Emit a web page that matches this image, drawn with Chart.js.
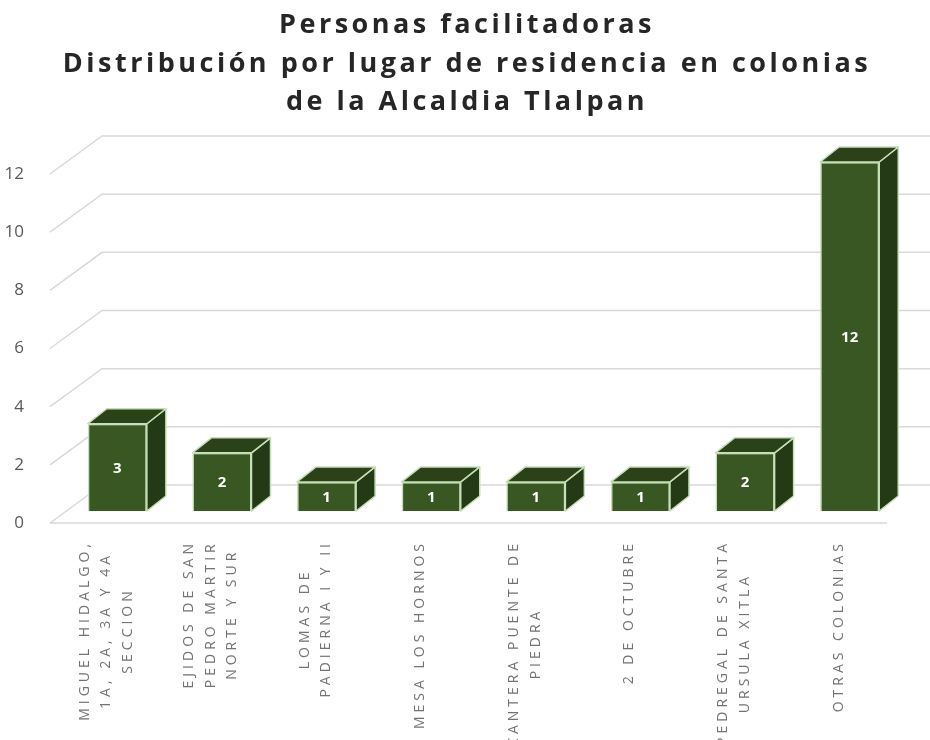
<!DOCTYPE html>
<html>
<head>
<meta charset="utf-8">
<script src="https://cdn.jsdelivr.net/npm/chart.js@4.4.0/dist/chart.umd.min.js"></script>
<style>
  html, body { margin: 0; padding: 0; background: #fff; }
</style>
</head>
<body>
<canvas id="chart" width="930" height="740"></canvas>
<script>
// ===== Data =====
var titleLines = [
  'Personas facilitadoras',
  'Distribución por lugar de residencia en colonias',
  'de la Alcaldia Tlalpan'
];
var categories = [
  ['MIGUEL HIDALGO,', '1A, 2A, 3A Y 4A', 'SECCION'],
  ['EJIDOS DE SAN', 'PEDRO MARTIR', 'NORTE Y SUR'],
  ['LOMAS DE', 'PADIERNA I Y II'],
  ['MESA LOS HORNOS'],
  ['CANTERA PUENTE DE', 'PIEDRA'],
  ['2 DE OCTUBRE'],
  ['PEDREGAL DE SANTA', 'URSULA XITLA'],
  ['OTRAS COLONIAS']
];
var values = [3, 2, 1, 1, 1, 1, 2, 12];
var yMin = 0, yMax = 12, yStep = 2;

// ===== 3D look =====
var wallDX = 52, wallDY = -38;       // back wall offset from front plane
var barShiftX = 15, barShiftY = -12; // bars sit a bit inside the floor
var barDX = 19, barDY = -15;         // depth of each bar
var gridColor = '#d9d9d9';
var frontColor = '#385723', topColor = '#2b4219', sideColor = '#243a17', edgeColor = '#c5e0b4';

function drawGrid(chart) {
  var ctx = chart.ctx, y = chart.scales.y, a = chart.chartArea;
  ctx.save();
  ctx.strokeStyle = gridColor;
  ctx.lineWidth = 1.5;
  y.ticks.forEach(function(t) {
    var py = y.getPixelForValue(t.value);
    ctx.beginPath();
    ctx.moveTo(a.left, py);
    ctx.lineTo(a.left + wallDX, py + wallDY);
    ctx.lineTo(a.right + wallDX, py + wallDY);
    ctx.stroke();
    if (t.value === yMin) {
      ctx.beginPath();
      ctx.moveTo(a.left, py);
      ctx.lineTo(a.right, py);
      ctx.stroke();
    }
  });
  ctx.restore();
}

function drawFaces(chart) {
  var ctx = chart.ctx;
  var meta = chart.getDatasetMeta(0);
  meta.data.forEach(function(bar, i) {
    var l = bar.x - bar.width / 2, r = bar.x + bar.width / 2;
    var top = bar.y, bottom = bar.base;
    ctx.lineWidth = 1.5;
    ctx.strokeStyle = edgeColor;
    ctx.lineJoin = 'round';
    // side
    ctx.beginPath();
    ctx.moveTo(r, top);
    ctx.lineTo(r + barDX, top + barDY);
    ctx.lineTo(r + barDX, bottom + barDY);
    ctx.lineTo(r, bottom);
    ctx.closePath();
    ctx.fillStyle = sideColor;
    ctx.fill();
    ctx.stroke();
    // top
    ctx.beginPath();
    ctx.moveTo(l, top);
    ctx.lineTo(l + barDX, top + barDY);
    ctx.lineTo(r + barDX, top + barDY);
    ctx.lineTo(r, top);
    ctx.closePath();
    ctx.fillStyle = topColor;
    ctx.fill();
    ctx.stroke();
    // value
    ctx.fillStyle = '#ffffff';
    ctx.font = 'bold 15px "Open Sans"';
    ctx.textAlign = 'center';
    ctx.textBaseline = 'middle';
    ctx.fillText(String(values[i]), bar.x, (top + bottom) / 2 + 1);
  });
}

function drawCategoryLabels(chart) {
  var ctx = chart.ctx, x = chart.scales.x;
  var labelTop = 540, lineGap = 21.5;
  ctx.save();
  ctx.font = '14px "Open Sans"';
  ctx.letterSpacing = '4px';
  ctx.fillStyle = '#737373';
  ctx.textAlign = 'center';
  ctx.textBaseline = 'middle';
  categories.forEach(function(lines, i) {
    var cx = x.getPixelForValue(i) + 4;
    var maxW = 0;
    lines.forEach(function(s) { maxW = Math.max(maxW, ctx.measureText(s).width); });
    lines.forEach(function(s, j) {
      ctx.save();
      ctx.translate(cx + (j - (lines.length - 1) / 2) * lineGap, labelTop + maxW / 2);
      ctx.rotate(-Math.PI / 2);
      ctx.fillText(s, 0, 0);
      ctx.restore();
    });
  });
  ctx.restore();
}

function drawTitle(chart) {
  var ctx = chart.ctx;
  ctx.save();
  ctx.font = 'bold 27px "Open Sans"';
  ctx.letterSpacing = '3.5px';
  ctx.fillStyle = '#262626';
  ctx.textAlign = 'center';
  ctx.textBaseline = 'alphabetic';
  var baselines = [33, 72, 110];
  titleLines.forEach(function(s, i) {
    ctx.fillText(s, chart.width / 2 + 2, baselines[i]);
  });
  ctx.restore();
}

var bar3d = {
  id: 'bar3d',
  beforeDatasetsDraw: function(chart) {
    drawGrid(chart);
    chart.ctx.save();
    chart.ctx.translate(barShiftX, barShiftY);
  },
  afterDatasetsDraw: function(chart) {
    drawFaces(chart);
    chart.ctx.restore();
  },
  afterDraw: function(chart) {
    drawCategoryLabels(chart);
    drawTitle(chart);
  }
};

var ctx = document.getElementById('chart').getContext('2d');
new Chart(ctx, {
  type: 'bar',
  data: {
    labels: categories,
    datasets: [{
      data: values,
      backgroundColor: frontColor,
      borderColor: edgeColor,
      borderWidth: 1.5,
      barPercentage: 0.565,
      categoryPercentage: 1,
      clip: false
    }]
  },
  options: {
    responsive: false,
    animation: false,
    devicePixelRatio: 1,
    layout: { padding: { top: 174, bottom: 209, left: 0, right: 43 } },
    plugins: { legend: { display: false }, tooltip: { enabled: false }, title: { display: false } },
    scales: {
      x: {
        ticks: { display: false },
        grid: { display: false },
        border: { display: false }
      },
      y: {
        min: yMin, max: yMax,
        afterFit: function(s) { s.width = 50; },
        ticks: { stepSize: yStep, padding: 18, color: '#595959', font: { family: 'Open Sans', size: 17 } },
        grid: { display: false },
        border: { display: false }
      }
    }
  },
  plugins: [bar3d]
});
</script>
</body>
</html>
